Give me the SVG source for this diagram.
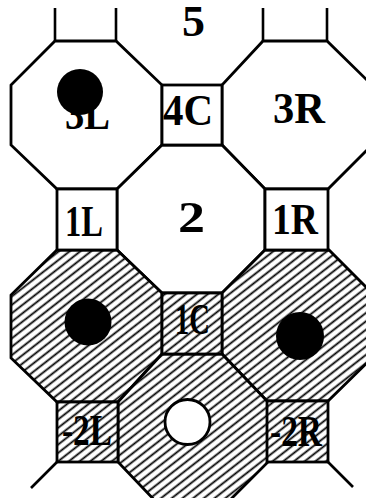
<svg xmlns="http://www.w3.org/2000/svg" width="366" height="498" viewBox="0 0 366 498">
<style>
.w{fill:#fff;stroke:#000;stroke-width:2.8}
.h{fill:url(#hatch);stroke:#000;stroke-width:2.8}
.lbl{font-family:"Liberation Serif","DejaVu Serif",serif;font-weight:bold;font-size:44px;fill:#000}
.ln{fill:none;stroke:#000;stroke-width:2.6}
</style>
<defs>
<pattern id="hatch" width="6.6" height="6.6" patternUnits="userSpaceOnUse" patternTransform="rotate(-38)">
<rect width="6.6" height="6.6" fill="#fff"/>
<line x1="0" y1="3.3" x2="6.6" y2="3.3" stroke="#000" stroke-width="1.8"/>
</pattern>
</defs>
<rect width="366" height="498" fill="#fff"/>

<g id="oct-3L">
<polygon class="w" points="55,41 116,41 162,85 162,145 117,189 57,189 11,145 11,85"/>
<text class="lbl" x="65" y="129" font-size="40" textLength="45" lengthAdjust="spacingAndGlyphs">3L</text>
<circle cx="80" cy="92" r="23" fill="#000"/>
</g>
<g id="oct-3R">
<polygon class="w" points="263,41 327,41 372,85 372,145 328,189 265,189 222,145 222,85"/>
<text class="lbl" x="273" y="123" textLength="52" lengthAdjust="spacingAndGlyphs">3R</text>
</g>
<g id="oct-2">
<polygon class="w" points="162,145 222,145 265,189 265,250 222,293 162,293 117,250 117,189"/>
<text class="lbl" x="178" y="232" textLength="27" lengthAdjust="spacingAndGlyphs">2</text>
</g>
<g id="oct-1L">
<polygon class="h" points="57,250 117,250 162,293 162,354 118,402 57,402 11,358 11,295"/>
<circle cx="88" cy="322" r="23.5" fill="#000"/>
</g>
<g id="oct-1R">
<polygon class="h" points="265,250 329,250 372,293 372,358 328,401 267,401 222,354 222,293"/>
<circle cx="300" cy="336" r="24" fill="#000"/>
</g>
<g id="oct-0">
<polygon class="h" points="162,354 222,354 268,402 268,462 222,508 162,508 118,462 118,402"/>
<circle cx="187.5" cy="422" r="22.5" fill="#fff" stroke="#000" stroke-width="2.8"/>
</g>
<g id="oct-5">
<text class="lbl" x="182" y="36" font-size="30" textLength="23" lengthAdjust="spacingAndGlyphs">5</text>
</g>

<g id="sq-4C">
<rect class="w" x="162" y="85" width="60" height="60"/>
<text class="lbl" x="163" y="125" textLength="50" lengthAdjust="spacingAndGlyphs">4C</text>
</g>
<g id="sq-1L">
<rect class="w" x="57" y="189" width="60" height="61"/>
<text class="lbl" x="65" y="236" textLength="38" lengthAdjust="spacingAndGlyphs">1L</text>
</g>
<g id="sq-1R">
<rect class="w" x="265" y="189" width="63" height="61"/>
<text class="lbl" x="272" y="234" textLength="46" lengthAdjust="spacingAndGlyphs">1R</text>
</g>
<g id="sq-1C">
<rect class="h" x="162" y="293" width="60" height="61"/>
<text class="lbl" x="175" y="334" font-size="40" textLength="35" lengthAdjust="spacingAndGlyphs">1C</text>
</g>
<g id="sq-m2L">
<rect class="h" x="57" y="402" width="61" height="60"/>
<text class="lbl" x="62" y="445" font-size="40" textLength="50" lengthAdjust="spacingAndGlyphs">-2L</text>
</g>
<g id="sq-m2R">
<rect class="h" x="267" y="401" width="61" height="61"/>
<text class="lbl" x="270" y="446" font-size="40" textLength="52" lengthAdjust="spacingAndGlyphs">-2R</text>
</g>

<g id="connectors">
<line class="ln" x1="55" y1="8" x2="55" y2="41"/>
<line class="ln" x1="116" y1="8" x2="116" y2="41"/>
<line class="ln" x1="263" y1="8" x2="263" y2="41"/>
<line class="ln" x1="327" y1="8" x2="327" y2="41"/>
<line class="ln" x1="57" y1="462" x2="31" y2="488"/>
<line class="ln" x1="328" y1="462" x2="353" y2="487"/>
</g>
</svg>
